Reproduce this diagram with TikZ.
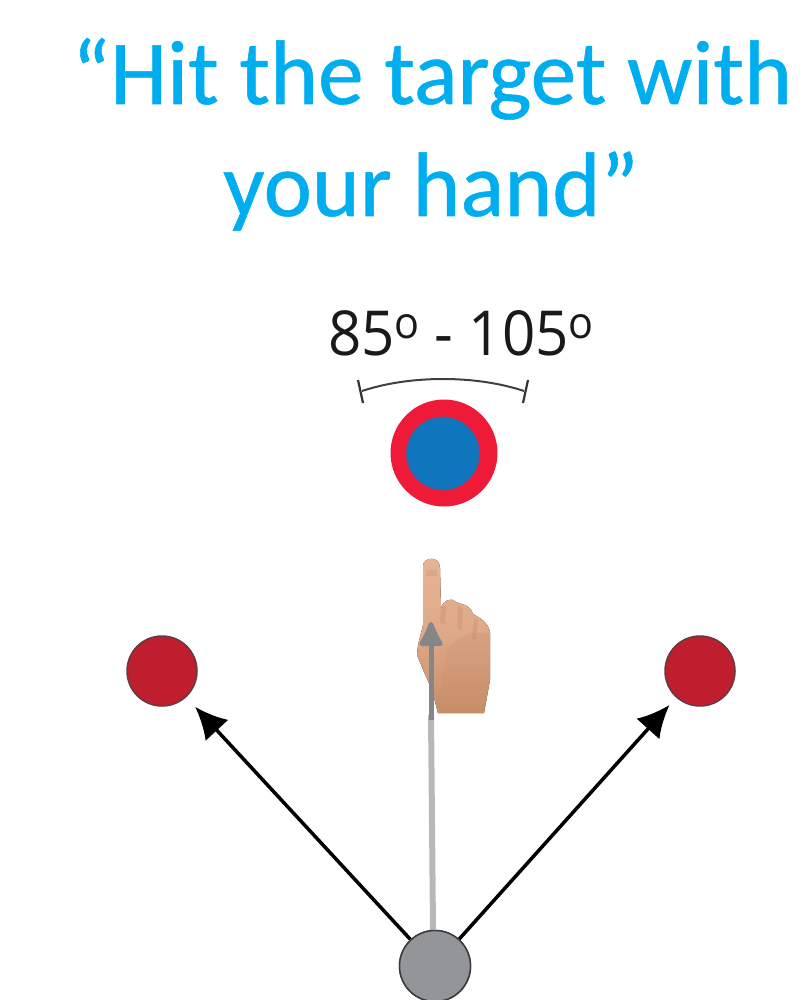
\documentclass[tikz,border=0pt]{standalone}
\usepackage{fontspec}
\setmainfont[FakeBold=0.6]{Carlito}
\newfontfamily\labelfont{Open Sans}
\usetikzlibrary{arrows.meta}
\definecolor{titleblue}{HTML}{00AEEF}
\definecolor{dotred}{HTML}{BE1E2D}
\definecolor{ringred}{HTML}{EF1A38}
\definecolor{coreblue}{HTML}{0F75BC}
\definecolor{srcgray}{HTML}{939598}
\definecolor{skinA}{HTML}{E8B596}
\definecolor{skinB}{HTML}{C98F6D}
\definecolor{skinC}{HTML}{C58B66}
\tikzset{
 titletext/.style={text=titleblue,font=\fontsize{91.5}{91.5}\selectfont,inner sep=0pt,anchor=base},
 dot/.style={circle,draw=black!55!dotred!60!gray,line width=1.5pt,fill=dotred,minimum size=70pt,inner sep=0pt},
 reach/.style={line width=3.5pt,black,-{Latex[length=32pt,width=31pt]}},
 sourcedot/.style={circle,fill=srcgray,draw=black!60!srcgray,line width=1.5pt,minimum size=71pt,inner sep=0pt},
}
\begin{document}
\begin{tikzpicture}[x=1pt,y=-1pt]
\useasboundingbox (0,0) rectangle (803,1000);
\clip (0,0) rectangle (803,1000);
\node[titletext] (t1) at (432,104) {“Hit the target with};
\node[titletext] (t2) at (431,216) {your hand”};
\node[inner sep=0pt,anchor=base,xscale=.94,text=black!90] (deg) at (461,355)
  {\labelfont\fontsize{62}{62}\selectfont 85\raisebox{17pt}{\fontsize{44}{44}\selectfont o} - 105\raisebox{17pt}{\fontsize{44}{44}\selectfont o}};
% bracket
\coordinate (bl) at (362,391);
\coordinate (br) at (524,391);
\draw[line width=2pt,black!75] (bl) .. controls (410,375) and (476,375) .. (br);
\draw[line width=2.2pt,black!80] (358,380) -- (363,403);
\draw[line width=2.2pt,black!80] (528,380) -- (523,403);
% target
\node[circle,fill=ringred,minimum size=107pt,inner sep=0pt] (ring) at (444,453) {};
\node[circle,fill=coreblue,draw=coreblue!60!ringred,line width=1pt,minimum size=73pt,inner sep=0pt] (core) at (443,453.5) {};
% hand
\begin{scope}
\clip (423,566) .. controls (423,557) and (440,555) .. (440,568) -- (441,608)
  .. controls (443,600) and (452,597) .. (456,602) .. controls (462,605) and (470,604) .. (473,614)
  .. controls (480,618) and (488,622) .. (490,632) -- (490,680) -- (484,713) -- (438,713) -- (432,690) -- (424,672)
  -- (417,655) -- (418,645) -- (423,625) -- cycle;
\fill[top color=skinA,bottom color=skinC,middle color=skinA!70!skinC] (410,550) rectangle (495,720);
\fill[skinB,opacity=.3] (447,650) .. controls (460,632) and (480,630) .. (495,635) -- (495,720) -- (435,720) -- cycle;
\fill[skinB,opacity=.4] (441,606) -- (446,606) -- (445,625) -- (440,622) -- cycle;
\fill[skinB,opacity=.4] (458,606) -- (463,608) -- (462,630) -- (457,628) -- cycle;
\fill[skinB,opacity=.4] (474,618) -- (478,620) -- (476,640) -- (472,638) -- cycle;
\fill[skinB,opacity=.3] (426,570) rectangle (437,576);
\end{scope}
% dots
\node[sourcedot] (src) at (435,966) {};
\node[dot] (left) at (162,671) {};
\node[dot] (right) at (700,671) {};
\coordinate (up) at (431,622);
\draw[line width=6pt,black!28] (src.north) ++(-2,0) -- (431,715);
\draw[line width=5pt,srcgray!90!black,-{Latex[length=30pt,width=28pt,round]}] (431,720) -- (up);
\draw[reach,shorten >=13pt] (src) -- (left);
\draw[reach,shorten >=10pt] (src) -- (right);
\node[sourcedot] at (src) {};
\end{tikzpicture}
\end{document}
